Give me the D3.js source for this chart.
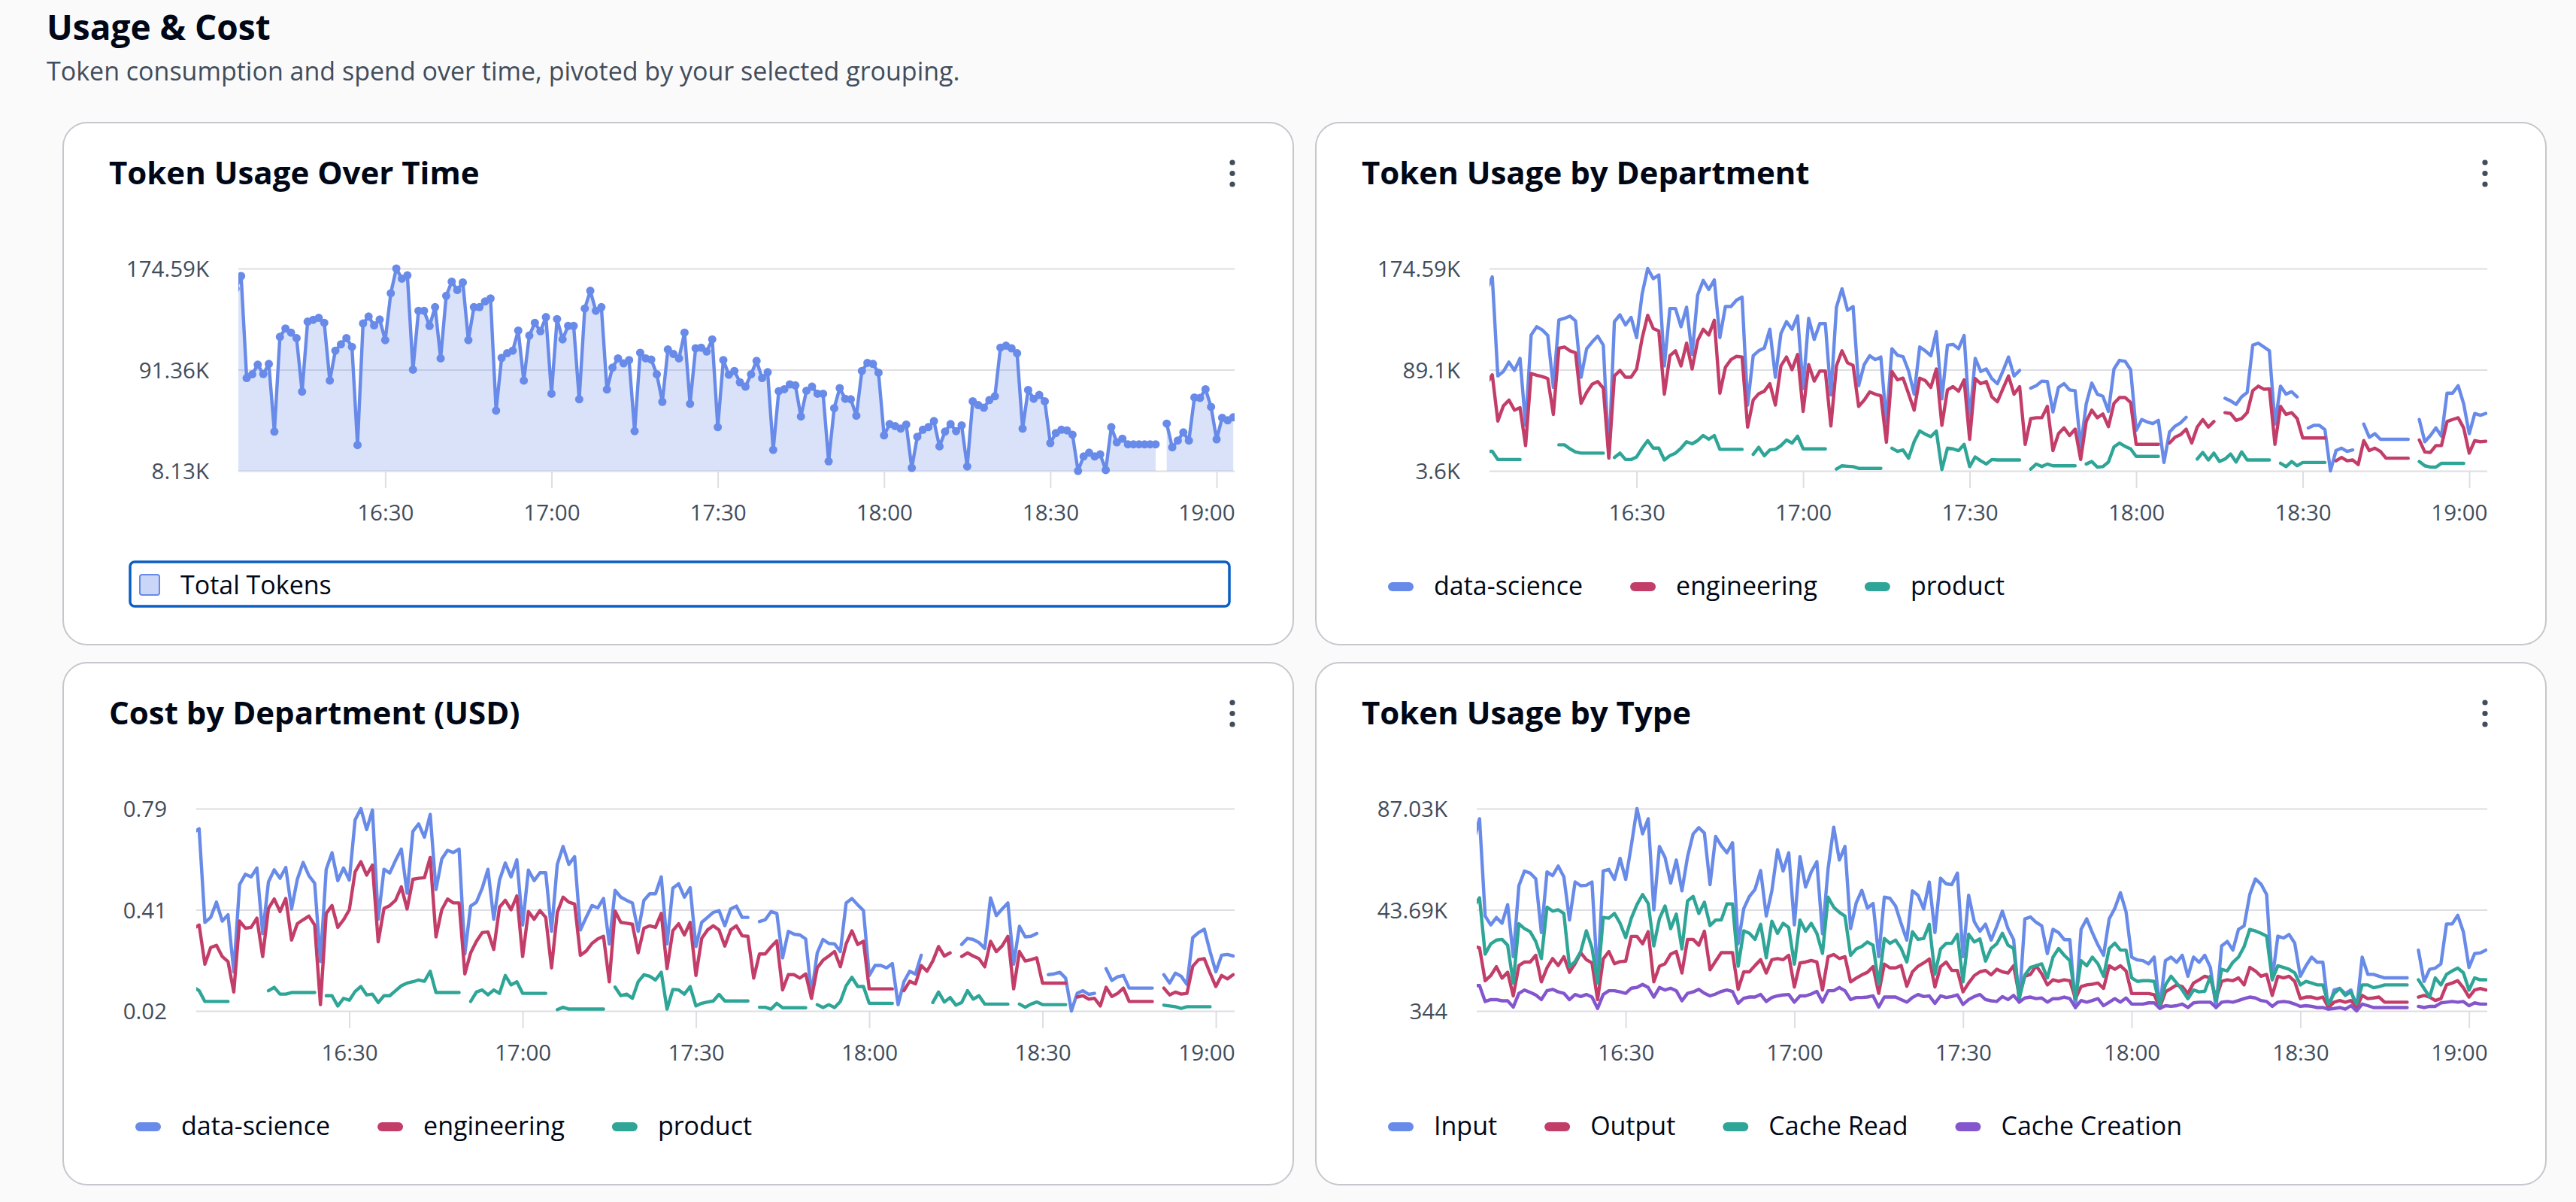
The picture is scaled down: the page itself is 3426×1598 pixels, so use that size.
<!DOCTYPE html>
<html>
<head>
<meta charset="utf-8">
<script src="https://cdn.jsdelivr.net/npm/d3@7"></script>
<style>
  body { margin: 0; background: #fafafa; }
  svg text { font-family: "Open Sans", "Noto Sans", sans-serif; }
</style>
</head>
<body>
<svg id="page" width="3426" height="1598"></svg>
<script>
// one point per minute, 16:03 .. 19:03 (181 points), null = no data for that minute
const firstMinute = "16:03";
const xDomain = ["16:03:30", "19:03:15"];

// Token Usage Over Time (thousands)
const totalTokens = [
  158, 168.4, 84.5, 87.6, 95.5, 87.8, 96.1,                          // 16:03
  40.4, 118.4, 125.3, 121.9, 117.4, 73.3, 130.9, 132.4, 134.0, 129.9, // 16:10
  82.4, 107.0, 112.2, 117.4, 110.1, 29.4, 129.4, 135.1, 127.8, 132.6, // 16:20
  115.7, 154.2, 174.59, 166.3, 169.0, 91.4, 139.8, 139.8, 127.4, 142.8,
  100.7, 152.1, 163.8, 156.9, 163.2, 115.7, 142.8, 142.8, 147.5, 150.0,
  57.7, 101.1, 104.9, 107.0, 123.6, 82.4, 119.5, 129.9, 123.0, 134.6,
  71.6, 133.0, 116.3, 127.4, 127.4, 67.0, 141.7, 156.3, 139.8, 142.8, // 17:00
  75.1, 93.0, 100.7, 96.6, 99.3, 40.8, 105.3, 100.7, 99.7, 87.6,
  64.9, 108.0, 104.3, 100.7, 121.9, 63.3, 109.0, 109.5, 106.3, 116.3,
  44.1, 99.3, 87.2, 90.3, 81.0, 77.4, 87.6, 98.6, 84.5, 89.3,
  25.4, 73.7, 75.3, 79.3, 78.5, 52.9, 74.1, 77.4, 71.6, 71.6,
  16.0, 59.7, 76.2, 67.4, 67.0, 53.5, 90.3, 97.0, 96.1, 88.9,
  37.3, 46.6, 45.0, 42.9, 46.2, 10.6, 36.2, 42.0, 44.1, 49.1,         // 18:00
  28.3, 40.4, 46.6, 40.8, 45.6, 11.7, 65.4, 62.2, 60.1, 66.4,
  69.5, 109.5, 111.1, 109.0, 104.9, 42.9, 74.7, 67.4, 70.6, 65.4,
  31.0, 39.3, 42.0, 41.4, 37.9, 8.13, 20.0, 23.1, 20.0, 21.7,
  8.8, 44.1, 31.6, 34.6, 30.0, 30.0, 30.0, 30.0, 30.0, 30.0,
  null, 47.0, 27.5, 33.1, 39.8, 33.1, 68.5, 68.1, 75.3, 60.8,
  34.1, 51.8, 49.7, 52.2                                              // 19:00
];

// Token Usage by Department (thousands)
const deptDataScience = [
  156.4, 167.5, 83.8, 87.6, 95.5, 88.5, 98.7,
  42.0, 118.4, 125.4, 122.7, 118.0, 74.1, 131.2, 132.5, 134.4, 130.3,
  82.7, 106.8, 112.6, 117.5, 109.8, 15.4, 129.7, 135.5, 126.9, 133.3,
  116.2, 153.2, 174.59, 166.0, 169.2, 92.3, 140.8, 140.8, 125.4, 141.9,
  101.9, 152.2, 164.5, 156.9, 165.0, 116.2, 142.5, 142.5, 147.9, 150.4,
  59.2, 100.9, 105.1, 107.3, 123.3, 82.7, 119.7, 129.7, 123.3, 134.6,
  73.1, 132.5, 114.7, 128.0, 128.0, 67.7, 141.9, 157.5, 139.3, 142.5,
  75.6, 93.4, 100.9, 97.6, 99.8, 45.0, 106.8, 101.3, 100.2, 88.0,
  68.4, 108.3, 105.1, 100.9, 121.2, 64.5, 109.8, 110.5, 106.8, 118.0,
  46.0, 98.7, 87.6, 89.7, 81.6, 77.3, 88.0, 99.8, 83.8, 88.5,
  null, 73.5, 75.6, 79.5, 79.1, 53.4, 74.1, 77.3, 72.0, 71.4,
  23.9, 60.2, 77.8, 68.4, 66.7, 53.8, 89.7, 97.0, 96.2, 89.1,
  37.8, 47.0, 44.9, 43.6, 46.3, 10.7, 36.3, 41.4, 44.2, 48.9,
  null, null, null, null, null, null, 64.9, 62.8, 59.8, 66.2,
  69.9, 109.8, 111.5, 108.3, 105.1, 43.1, 75.2, 68.4, 70.5, 66.2,
  null, 39.9, 42.1, 42.1, 38.4, 3.6, 20.7, 22.8, 20.1, 21.3,
  null, 43.1, 32.0, 35.0, 30.3, 30.3, 30.3, 30.3, 30.3, 30.3,
  null, 47.0, 28.2, 33.5, 39.9, 32.9, 69.2, 69.2, 75.6, 60.2,
  35.0, 52.1, 50.6, 52.1
];
const deptEngineering = [
  77.3, 84.8, 45.7, 58.5, 63.4, 54.9, 57.0,
  25.0, 85.9, 84.4, 83.3, 81.6, 51.3, 107.3, 108.3, 105.1, 103.4,
  60.7, 69.9, 76.9, 79.1, 73.5, 14.3, 83.8, 88.5, 82.7, 82.7,
  89.7, 115.8, 135.1, 123.9, 121.8, 68.4, 100.9, 105.1, 92.3, 111.5,
  89.7, 113.7, 123.3, 118.4, 130.8, 69.2, 91.2, 97.6, 100.4, 99.8,
  40.6, 63.4, 68.8, 70.9, 77.3, 59.2, 92.3, 99.8, 89.1, 101.9,
  53.8, 93.4, 79.5, 88.0, 88.0, 41.6, 92.3, 105.1, 94.9, 92.7,
  58.1, 63.4, 70.3, 68.4, 67.1, 27.8, 87.6, 80.5, 82.0, 68.8,
  54.9, 82.0, 79.9, 74.1, 89.7, 42.1, 72.0, 74.8, 70.9, 80.5,
  30.3, 81.6, 77.3, 79.1, 66.2, 62.0, 73.1, 83.8, 68.4, 74.8,
  26.0, 47.8, 48.5, 48.5, 58.1, 20.7, 35.0, 39.9, 33.5, 38.9,
  13.2, 45.3, 54.9, 48.5, 51.7, 41.0, 60.7, 65.6, 65.6, 61.3,
  26.0, 26.0, 26.0, 26.0, 26.0, null, 27.1, 32.0, 34.2, 38.9,
  27.1, 40.6, 47.0, 40.6, 45.3, null, 52.8, 52.1, 46.3, 47.8,
  52.8, 71.4, 75.2, 72.6, 72.9, 26.0, 58.1, 51.3, 52.8, 47.8,
  31.4, 31.4, 31.4, 31.4, 31.4, null, 12.1, 14.9, 12.1, 12.8,
  8.9, 29.2, 20.7, 22.8, 20.1, 14.3, 14.3, 14.3, 14.3, 14.3,
  null, 29.7, 19.6, 19.2, 25.0, 25.0, 45.3, 47.0, 48.5, 39.9,
  18.6, 29.2, 28.2, 28.6
];
const deptProduct = [
  20.1, 20.1, 13.2, 13.2, 13.2, 13.2, 13.2,
  null, null, null, null, null, null, 25.6, 25.6, 22.2, 19.6,
  18.6, 18.6, 18.6, 18.6, 18.6, null, 14.9, 18.6, 13.2, 13.2,
  15.4, 22.8, 29.2, 22.8, 22.8, 12.8, 16.4, 18.6, 22.8, 28.2,
  26.5, 29.2, 33.5, 30.3, 33.5, 21.8, 21.8, 21.8, 21.8, 21.8,
  null, 17.5, 23.5, 16.4, 21.3, 21.8, 25.0, 29.7, 27.1, 32.9,
  22.2, 22.2, 22.2, 22.2, 22.2, null, 5.1, 7.9, 7.5, 7.2,
  5.7, 5.7, 5.7, 5.7, 5.7, null, 22.8, 20.1, 21.3, 14.3,
  28.2, 37.4, 34.6, 32.5, 37.2, 4.7, 22.8, 22.2, 20.7, 26.0,
  7.2, 15.4, 12.1, 9.4, 13.2, 12.8, 12.8, 12.8, 12.8, 12.8,
  null, 5.1, 9.4, 7.2, 9.4, 7.9, 7.9, 7.9, 7.9, 7.9,
  null, 9.4, 11.5, 6.8, 7.2, 11.1, 23.9, 27.1, 24.3, 22.2,
  15.8, 15.8, 15.8, 15.8, 15.8, null, null, null, null, null,
  null, 13.6, 19.2, 12.8, 18.6, 11.5, 13.6, 17.9, 11.1, 19.6,
  12.8, 12.8, 12.8, 12.8, 12.8, null, 10.0, 7.2, 11.5, 7.9,
  10.7, 10.7, 10.7, 10.7, 10.7, null, null, null, null, null,
  null, null, null, null, null, null, null, null, null, null,
  null, 11.5, 7.9, 6.8, 6.8, 10.0, 10.0, 10.0, 10.0, 10.0,
  null, null, null, null
];

// Cost by Department (USD)
const costDataScience = [
  0.699, 0.713, 0.357, 0.376, 0.434, 0.362, 0.386,
  0.169, 0.501, 0.540, 0.530, 0.564, 0.314, 0.511, 0.557, 0.525, 0.566,
  0.408, 0.521, 0.585, 0.535, 0.506, 0.208, 0.559, 0.622, 0.516, 0.564,
  0.518, 0.747, 0.79, 0.710, 0.785, 0.369, 0.559, 0.545, 0.593, 0.636,
  0.468, 0.703, 0.732, 0.681, 0.768, 0.482, 0.598, 0.631, 0.623, 0.636,
  0.237, 0.419, 0.434, 0.487, 0.559, 0.369, 0.518, 0.583, 0.530, 0.595,
  0.347, 0.556, 0.516, 0.546, 0.546, 0.323, 0.578, 0.646, 0.578, 0.607,
  0.328, 0.376, 0.421, 0.412, 0.448, 0.275, 0.479, 0.453, 0.441, 0.431,
  0.323, 0.441, 0.466, 0.466, 0.530, 0.275, 0.487, 0.504, 0.453, 0.489,
  0.265, 0.357, 0.376, 0.395, 0.402, 0.344, 0.408, 0.419, 0.376, 0.376,
  null, 0.360, 0.367, 0.398, 0.391, 0.222, 0.323, 0.312, 0.309, 0.294,
  0.083, 0.241, 0.292, 0.277, 0.275, 0.246, 0.431, 0.448, 0.424, 0.402,
  0.155, 0.193, 0.193, 0.184, 0.200, 0.044, 0.131, 0.171, 0.160, 0.232,
  null, null, null, null, null, null, 0.273, 0.296, 0.292, 0.280,
  0.258, 0.450, 0.383, 0.408, 0.431, 0.198, 0.342, 0.302, 0.304, 0.315,
  null, 0.158, 0.161, 0.167, 0.145, 0.02, 0.087, 0.097, 0.083, 0.087,
  null, 0.181, 0.136, 0.150, 0.155, 0.107, 0.107, 0.107, 0.107, 0.107,
  null, 0.158, 0.126, 0.164, 0.152, 0.121, 0.299, 0.318, 0.331, 0.246,
  0.169, 0.232, 0.235, 0.229
];
const costEngineering = [
  0.333, 0.347, 0.198, 0.261, 0.270, 0.227, 0.208,
  0.092, 0.362, 0.335, 0.338, 0.373, 0.227, 0.410, 0.446, 0.398, 0.448,
  0.290, 0.352, 0.367, 0.381, 0.347, 0.044, 0.391, 0.421, 0.338, 0.367,
  0.405, 0.549, 0.588, 0.537, 0.575, 0.283, 0.410, 0.421, 0.441, 0.492,
  0.408, 0.521, 0.525, 0.527, 0.604, 0.302, 0.405, 0.446, 0.431, 0.431,
  0.161, 0.241, 0.285, 0.318, 0.321, 0.254, 0.415, 0.441, 0.405, 0.458,
  0.227, 0.398, 0.369, 0.402, 0.376, 0.184, 0.395, 0.453, 0.434, 0.427,
  0.232, 0.248, 0.277, 0.294, 0.304, 0.131, 0.400, 0.357, 0.354, 0.350,
  0.241, 0.335, 0.344, 0.338, 0.391, 0.181, 0.325, 0.352, 0.309, 0.357,
  0.155, 0.296, 0.328, 0.344, 0.328, 0.267, 0.328, 0.344, 0.306, 0.304,
  0.145, 0.237, 0.237, 0.264, 0.287, 0.100, 0.158, 0.158, 0.145, 0.161,
  0.068, 0.184, 0.213, 0.229, 0.246, 0.188, 0.275, 0.325, 0.273, 0.285,
  0.104, 0.104, 0.104, 0.104, 0.104, null, 0.097, 0.133, 0.123, 0.193,
  0.171, 0.210, 0.265, 0.229, 0.241, null, 0.227, 0.241, 0.229, 0.219,
  0.188, 0.285, 0.246, 0.267, 0.304, 0.104, 0.246, 0.210, 0.215, 0.222,
  0.126, 0.126, 0.126, 0.126, 0.126, null, 0.073, 0.078, 0.065, 0.068,
  0.039, 0.110, 0.075, 0.087, 0.107, 0.056, 0.056, 0.056, 0.056, 0.056,
  null, 0.107, 0.081, 0.092, 0.084, 0.087, 0.190, 0.215, 0.219, 0.164,
  0.113, 0.155, 0.142, 0.158
];
const costProduct = [
  0.111, 0.097, 0.056, 0.056, 0.056, 0.056, 0.056,
  null, null, null, null, null, null, 0.097, 0.110, 0.084, 0.084,
  0.090, 0.090, 0.090, 0.090, 0.090, null, 0.078, 0.078, 0.039, 0.068,
  0.061, 0.094, 0.113, 0.081, 0.084, 0.052, 0.078, 0.078, 0.097, 0.116,
  0.126, 0.131, 0.138, 0.133, 0.171, 0.090, 0.090, 0.090, 0.090, 0.090,
  null, 0.056, 0.092, 0.100, 0.081, 0.100, 0.087, 0.155, 0.119, 0.131,
  0.087, 0.087, 0.087, 0.087, 0.087, null, 0.025, 0.034, 0.027, 0.027,
  0.027, 0.027, 0.027, 0.027, 0.027, null, 0.111, 0.078, 0.084, 0.068,
  0.131, 0.158, 0.152, 0.138, 0.167, 0.027, 0.102, 0.100, 0.084, 0.113,
  0.039, 0.049, 0.054, 0.058, 0.083, 0.058, 0.058, 0.058, 0.058, 0.058,
  null, 0.034, 0.034, 0.027, 0.049, 0.032, 0.032, 0.032, 0.032, 0.032,
  null, 0.044, 0.033, 0.044, 0.033, 0.056, 0.116, 0.148, 0.113, 0.113,
  0.049, 0.049, 0.049, 0.049, 0.049, null, null, null, null, null,
  null, 0.052, 0.092, 0.054, 0.071, 0.042, 0.052, 0.097, 0.065, 0.078,
  0.046, 0.046, 0.046, 0.046, 0.046, null, 0.046, 0.034, 0.046, 0.054,
  0.044, 0.044, 0.044, 0.044, 0.044, null, null, null, null, null,
  null, null, null, null, null, null, null, null, null, null,
  null, 0.042, 0.039, 0.036, 0.030, 0.036, 0.036, 0.036, 0.036, 0.036,
  null, null, null, null
];

// Token Usage by Type (thousands)
const typeInput = [
  73.5, 82.7, 41.0, 37.2, 40.4, 37.9, 45.9,
  23.6, 54.0, 60.3, 59.4, 57.0, 33.9, 59.9, 58.3, 62.4, 57.8,
  39.3, 55.6, 54.0, 54.2, 55.6, 13.9, 60.3, 61.0, 56.7, 65.7,
  56.7, 71.3, 87.03, 76.2, 82.7, 43.7, 70.8, 66.1, 55.1, 65.0,
  51.8, 66.4, 76.2, 78.9, 76.5, 54.5, 75.1, 71.1, 68.1, 72.4,
  29.1, 44.2, 49.4, 52.4, 60.5, 41.0, 51.8, 69.4, 60.3, 68.1,
  37.2, 66.4, 53.4, 59.9, 64.3, 33.4, 61.3, 79.1, 65.0, 70.8,
  35.6, 46.6, 52.0, 44.4, 46.4, 23.6, 49.1, 48.6, 45.3, 37.7,
  30.7, 51.8, 49.9, 44.0, 55.6, 33.9, 57.2, 54.8, 54.5, 59.4,
  23.6, 49.9, 38.6, 34.5, 37.5, 30.7, 36.6, 43.1, 35.6, 30.9,
  4.1, 39.8, 40.6, 38.3, 36.8, 24.9, 35.3, 33.9, 30.9, 30.9,
  1.8, 35.3, 39.8, 33.9, 28.6, 24.2, 39.8, 44.3, 51.0, 42.8,
  23.4, 22.2, 21.9, 20.5, 23.4, 1.8, 21.9, 23.4, 21.2, 24.2,
  15.2, 23.4, 21.2, 24.2, 19.0, 1.8, 28.2, 30.1, 26.4, 35.3,
  36.8, 50.2, 56.9, 54.7, 50.2, 13.7, 32.4, 31.6, 33.1, 29.4,
  15.2, 19.7, 23.4, 21.2, 21.2, 1.1, 9.3, 10.0, 7.8, 9.3,
  1.1, 23.4, 16.0, 16.0, 15.2, 14.5, 14.5, 14.5, 14.5, 14.5,
  null, 26.4, 13.0, 18.2, 18.7, 20.5, 37.6, 37.6, 41.3, 34.2,
  19.0, 24.9, 25.2, 26.4
];
const typeOutput = [
  28.0, 27.4, 13.3, 15.5, 19.3, 14.4, 16.9,
  6.8, 19.8, 21.3, 21.3, 24.2, 12.8, 18.8, 22.8, 19.8, 23.6,
  16.9, 20.6, 25.3, 22.3, 20.9, 5.2, 22.6, 25.8, 20.6, 21.5,
  21.7, 32.3, 32.3, 29.1, 34.3, 12.8, 19.5, 20.6, 24.7, 25.8,
  16.6, 31.0, 31.0, 28.5, 34.5, 18.0, 21.7, 25.3, 25.3, 25.3,
  9.6, 17.1, 17.1, 19.8, 22.3, 16.6, 22.3, 22.8, 22.3, 24.2,
  10.6, 20.9, 21.3, 22.0, 21.3, 9.3, 23.6, 24.5, 22.8, 23.6,
  12.8, 14.4, 15.8, 16.9, 19.3, 7.9, 20.4, 18.8, 18.8, 19.8,
  10.9, 17.1, 19.5, 20.9, 22.6, 10.6, 19.3, 21.3, 17.7, 17.7,
  8.5, 12.3, 15.5, 17.1, 17.7, 15.8, 18.2, 17.1, 16.6, 19.7,
  7.0, 15.2, 16.0, 19.7, 16.3, 11.5, 13.7, 13.0, 13.7, 13.3,
  5.6, 10.8, 11.5, 11.8, 12.3, 10.0, 19.7, 18.2, 19.7, 17.5,
  7.8, 7.8, 7.8, 7.8, 7.3, 1.8, 8.5, 10.0, 11.5, 10.8,
  7.8, 12.3, 13.7, 15.2, 14.5, 5.6, 13.0, 13.7, 13.3, 14.5,
  11.5, 19.0, 17.5, 15.2, 16.0, 7.0, 15.2, 14.5, 15.2, 13.0,
  5.6, 6.3, 6.3, 5.6, 6.3, 1.8, 4.1, 4.8, 4.1, 4.8,
  1.8, 7.0, 5.6, 5.9, 6.3, 4.1, 4.1, 4.1, 4.1, 4.1,
  null, 6.3, 7.0, 6.3, 4.8, 5.6, 11.5, 12.3, 13.3, 10.3,
  6.3, 9.3, 10.0, 9.3
];
const typeCacheRead = [
  45.3, 48.8, 24.7, 29.1, 30.7, 31.0, 28.5,
  12.3, 37.7, 35.6, 34.3, 30.1, 22.8, 44.8, 43.1, 43.7, 42.1,
  19.3, 21.5, 25.8, 34.7, 27.4, 12.3, 40.4, 40.1, 42.1, 37.9,
  31.8, 40.1, 45.9, 50.2, 46.4, 28.2, 39.9, 45.3, 35.6, 41.8,
  26.9, 47.5, 49.4, 42.1, 46.9, 36.9, 39.3, 39.3, 46.2, 46.2,
  19.5, 34.7, 33.6, 31.0, 37.5, 23.1, 38.8, 33.6, 37.9, 36.1,
  20.4, 39.3, 34.5, 37.9, 33.6, 25.0, 49.1, 44.8, 42.6, 41.0,
  24.2, 26.9, 28.0, 29.9, 28.5, 11.7, 31.4, 29.3, 30.7, 27.1,
  21.3, 34.3, 31.0, 31.4, 37.5, 16.1, 26.9, 29.3, 29.3, 33.2,
  12.8, 33.2, 29.9, 31.2, 21.7, 27.1, 29.1, 33.6, 28.5, 27.1,
  5.6, 15.7, 19.0, 19.7, 20.5, 14.5, 23.4, 27.1, 24.2, 21.9,
  5.6, 21.9, 19.7, 23.4, 20.5, 15.2, 27.1, 29.4, 26.4, 26.4,
  14.5, 13.0, 13.3, 13.3, 13.0, 2.6, 11.5, 15.2, 12.3, 9.3,
  5.6, 9.3, 8.5, 8.8, 15.2, 4.8, 18.2, 17.5, 21.2, 23.4,
  27.9, 35.3, 34.6, 33.6, 32.4, 13.7, 19.7, 19.0, 18.2, 16.7,
  11.5, 13.0, 12.3, 11.5, 11.5, 3.3, 7.8, 10.0, 7.0, 8.5,
  3.3, 11.5, 11.5, 10.3, 10.8, 11.5, 11.5, 11.5, 11.5, 11.5,
  null, 13.7, 10.0, 6.3, 14.5, 11.5, 16.0, 17.5, 18.7, 16.7,
  9.3, 14.5, 13.7, 13.7
];
const typeCacheCreation = [
  11.2, 11.2, 4.4, 5.2, 5.2, 4.7, 4.7,
  2.0, 7.9, 9.3, 8.3, 7.2, 5.2, 9.0, 9.6, 8.5, 7.9,
  5.2, 7.4, 6.5, 7.4, 6.3, 1.4, 7.4, 9.0, 9.0, 8.5,
  7.9, 10.1, 10.4, 11.7, 10.4, 6.3, 10.4, 9.3, 10.1, 9.0,
  4.7, 7.9, 8.5, 9.6, 7.9, 6.8, 7.6, 8.7, 9.3, 8.7,
  3.6, 5.8, 6.3, 6.3, 7.4, 4.4, 6.1, 6.8, 7.2, 7.4,
  4.1, 6.8, 6.8, 7.6, 8.7, 4.1, 9.0, 9.0, 10.4, 9.0,
  5.2, 6.1, 6.1, 6.3, 6.8, 2.0, 6.3, 6.3, 6.3, 5.2,
  4.1, 6.1, 7.4, 6.5, 6.8, 3.6, 6.8, 6.1, 6.5, 7.2,
  3.1, 5.2, 6.5, 7.4, 5.2, 4.7, 4.4, 6.5, 5.2, 7.0,
  4.1, 5.9, 6.3, 5.6, 5.9, 4.1, 5.6, 5.6, 6.3, 5.6,
  1.8, 4.8, 4.1, 4.8, 5.6, 2.6, 4.1, 5.6, 4.1, 5.9,
  3.3, 3.3, 3.3, 3.8, 3.8, 1.4, 2.6, 2.3, 2.6, 3.3,
  1.8, 3.8, 4.1, 4.1, 4.1, 1.8, 4.1, 4.4, 4.1, 4.8,
  5.6, 6.3, 5.9, 4.8, 4.4, 2.3, 4.1, 4.4, 4.1, 3.3,
  2.3, 2.6, 2.3, 1.8, 1.8, 1.1, 1.4, 1.8, 1.1, 2.6,
  0.344, 3.3, 2.6, 1.8, 1.8, 1.8, 1.8, 1.8, 1.8, 1.8,
  null, 2.3, 1.8, 2.3, 2.3, 3.8, 4.1, 4.4, 4.1, 4.4,
  2.6, 3.8, 3.3, 3.3
];

// y ticks: min, middle, max
const totalTicks = [8.13, 91.36, 174.59];
const totalTickLabels = ["8.13K", "91.36K", "174.59K"];
const deptTicks = [3.6, 89.095, 174.59];
const deptTickLabels = ["3.6K", "89.1K", "174.59K"];
const costTicks = [0.02, 0.405, 0.79];
const costTickLabels = ["0.02", "0.41", "0.79"];
const typeTicks = [0.344, 43.687, 87.03];
const typeTickLabels = ["344", "43.69K", "87.03K"];

const departments = ["data-science", "engineering", "product"];
const tokenTypes = ["Input", "Output", "Cache Read", "Cache Creation"];
const palette = ["#688ae8", "#c33d69", "#2ea597", "#8456ce"];

const parseHM = d3.timeParse("%H:%M");
const parseHMS = d3.timeParse("%H:%M:%S");
const times = totalTokens.map((_, i) => d3.timeMinute.offset(parseHM(firstMinute), i));

const svg = d3.select("#page");

// page header
svg.append("text").attr("x", 62).attr("y", 53)
  .attr("font-size", 46).attr("font-weight", 700).attr("fill", "#000716")
  .text("Usage & Cost");
svg.append("text").attr("x", 62).attr("y", 107)
  .attr("font-size", 34).attr("fill", "#414d5c")
  .text("Token consumption and spend over time, pivoted by your selected grouping.");

const cards = [
  { x: 83, y: 162, ml: 234, title: "Token Usage Over Time", area: true,
    ticks: totalTicks, labels: totalTickLabels,
    series: [{ name: "Total Tokens", values: totalTokens, color: palette[0] }] },
  { x: 1749, y: 162, ml: 232, title: "Token Usage by Department",
    ticks: deptTicks, labels: deptTickLabels,
    series: [deptDataScience, deptEngineering, deptProduct]
      .map((v, i) => ({ name: departments[i], values: v, color: palette[i] })) },
  { x: 83, y: 880, ml: 178, title: "Cost by Department (USD)",
    ticks: costTicks, labels: costTickLabels,
    series: [costDataScience, costEngineering, costProduct]
      .map((v, i) => ({ name: departments[i], values: v, color: palette[i] })) },
  { x: 1749, y: 880, ml: 215, title: "Token Usage by Type",
    ticks: typeTicks, labels: typeTickLabels,
    series: [typeInput, typeOutput, typeCacheRead, typeCacheCreation]
      .map((v, i) => ({ name: tokenTypes[i], values: v, color: palette[i] })) }
];

cards.forEach(drawCard);

function drawCard(c, ci) {
  const W = 1638, H = 696;
  const g = svg.append("g").attr("transform", `translate(${c.x},${c.y})`);
  g.append("rect").attr("x", 1).attr("y", 1).attr("width", W - 2).attr("height", H - 2)
    .attr("rx", 32).attr("fill", "#fff").attr("stroke", "#c6c6cd").attr("stroke-width", 2);

  g.append("text").attr("x", 62).attr("y", 83)
    .attr("font-size", 42).attr("font-weight", 700).attr("fill", "#000716")
    .text(c.title);

  // kebab menu
  [54, 68.5, 83].forEach(cy => g.append("circle")
    .attr("cx", 1556).attr("cy", cy).attr("r", 3.6).attr("fill", "#414d5c"));

  const left = c.ml, right = 1559, top = 195, bottom = 464;
  const x = d3.scaleTime().domain(xDomain.map(parseHMS)).range([left, right]);
  const y = d3.scaleLinear().domain([c.ticks[0], c.ticks[2]]).range([bottom, top]);

  // horizontal grid + y labels
  const yAxis = g.append("g").attr("transform", `translate(${left},0)`)
    .call(d3.axisLeft(y).tickValues(c.ticks).tickSize(-(right - left))
      .tickPadding(39).tickFormat((d, i) => c.labels[i]));
  yAxis.select(".domain").remove();
  yAxis.attr("font-family", null);
  yAxis.selectAll("line").attr("stroke", "#dedee3").attr("stroke-width", 2);
  yAxis.selectAll("text").attr("font-size", 29.5).attr("fill", "#414d5c").attr("dy", "0.36em");

  // x axis ticks
  const xAxis = g.append("g").attr("transform", `translate(0,${bottom})`)
    .call(d3.axisBottom(x).ticks(d3.timeMinute.every(30)).tickSize(23)
      .tickPadding(22).tickFormat(d3.timeFormat("%H:%M")));
  xAxis.select(".domain").remove();
  xAxis.attr("font-family", null);
  xAxis.selectAll("line").attr("stroke", "#dedee3").attr("stroke-width", 2);
  xAxis.selectAll("text").attr("font-size", 29.5).attr("fill", "#414d5c");
  xAxis.selectAll(".tick text").each(function (d) {
    const w = this.getComputedTextLength();
    const px = x(d);
    if (px + w / 2 > right) d3.select(this).attr("x", right - w / 2 - px);
  });

  // plot
  const clipId = "clip" + ci;
  g.append("clipPath").attr("id", clipId).append("rect")
    .attr("x", left).attr("y", top - 20).attr("width", right - left).attr("height", bottom - top + 40);
  const plot = g.append("g").attr("clip-path", `url(#${clipId})`);

  c.series.forEach(s => {
    const pts = s.values.map((v, i) => ({ t: times[i], v }));
    const defined = d => d.v != null;
    if (c.area) {
      plot.append("path").datum(pts)
        .attr("fill", s.color).attr("fill-opacity", 0.25)
        .attr("d", d3.area().defined(defined).x(d => x(d.t)).y0(bottom).y1(d => y(d.v)));
    }
    plot.append("path").datum(pts)
      .attr("fill", "none").attr("stroke", s.color).attr("stroke-width", 4.4)
      .attr("stroke-linejoin", "round").attr("stroke-linecap", "round")
      .attr("d", d3.line().defined(defined).x(d => x(d.t)).y(d => y(d.v)));
    if (c.area) {
      plot.selectAll(null).data(pts.filter(defined)).enter().append("circle")
        .attr("cx", d => x(d.t)).attr("cy", d => y(d.v)).attr("r", 5.5)
        .attr("fill", s.color);
    }
  });

  // legend
  const lg = g.append("g");
  if (c.area) {
    lg.append("rect").attr("x", 90).attr("y", 585).attr("width", 1462).attr("height", 59)
      .attr("rx", 6).attr("fill", "none").attr("stroke", "#0a5fc4").attr("stroke-width", 3.5);
    lg.append("rect").attr("x", 103).attr("y", 602).attr("width", 26).attr("height", 27)
      .attr("rx", 3).attr("fill", c.series[0].color).attr("fill-opacity", 0.35)
      .attr("stroke", c.series[0].color).attr("stroke-width", 2);
    lg.append("text").attr("x", 157).attr("y", 628).attr("font-size", 34)
      .attr("fill", "#000716").text(c.series[0].name);
  } else {
    let lx = 97;
    c.series.forEach(s => {
      lg.append("rect").attr("x", lx).attr("y", 612).attr("width", 34).attr("height", 12)
        .attr("rx", 6).attr("fill", s.color);
      const t = lg.append("text").attr("x", lx + 61).attr("y", 629).attr("font-size", 34)
        .attr("fill", "#000716").text(s.name);
      lx += 61 + t.node().getComputedTextLength() + 63;
    });
  }
}
</script>
</body>
</html>
